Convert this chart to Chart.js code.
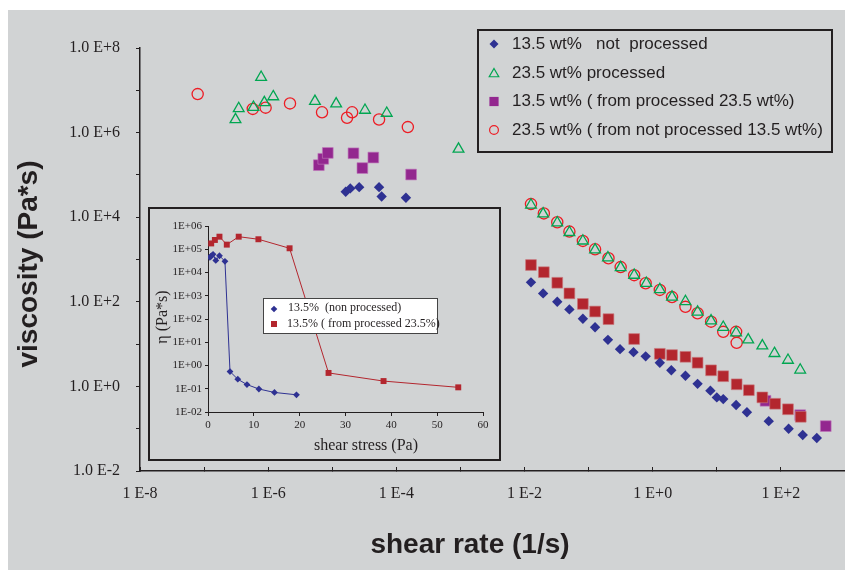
<!DOCTYPE html>
<html>
<head>
<meta charset="utf-8">
<script src="https://cdn.jsdelivr.net/npm/chart.js@4.4.1/dist/chart.umd.min.js"></script>
<style>
html,body{margin:0;padding:0;background:#ffffff;}
#wrap{position:relative;width:845px;height:572px;overflow:hidden;}
#bg{position:absolute;left:8px;top:10px;width:837px;height:560px;background:#D1D3D4;}
#main{position:absolute;left:0;top:0;width:845px;height:572px;}
#insetBox{position:absolute;left:148px;top:207px;width:349px;height:250px;border:2px solid #231F20;}
#inset{position:absolute;left:0;top:0;width:349px;height:250px;}
</style>
</head>
<body>
<div id="wrap">
  <div id="bg"></div>
  <canvas id="main" width="845" height="572"></canvas>
  <div id="insetBox"><canvas id="inset" width="349" height="250"></canvas></div>
</div>
<script>
// ---------------- DATA (main chart) ----------------
const xTitle = 'shear rate (1/s)';
const yTitle = 'viscosity (Pa*s)';
const legendLabels = [
  '13.5 wt%   not  processed',
  '23.5 wt% processed',
  '13.5 wt% ( from processed 23.5 wt%)',
  '23.5 wt% ( from not processed 13.5 wt%)'
];
const xTickValues = [1e-8,1e-7,1e-6,1e-5,1e-4,1e-3,1e-2,1e-1,1e0,1e1,1e2,1e3];
const xTickLabels = ['1 E-8','','1 E-6','','1 E-4','','1 E-2','','1 E+0','','1 E+2',''];
const yTickValues = [1e-2,1e-1,1e0,1e1,1e2,1e3,1e4,1e5,1e6,1e7,1e8];
const yTickLabels = ['1.0 E-2','','1.0 E+0','','1.0 E+2','','1.0 E+4','','1.0 E+6','','1.0 E+8'];

// 13.5 wt% not processed (diamonds)
const rate135NP = [1.62e-5,1.91e-5,2.63e-5,5.37e-5,5.89e-5,1.41e-4,
  1.26e-2,1.95e-2,3.24e-2,5.01e-2,8.13e-2,0.126,0.200,0.309,0.501,0.776,1.29,1.95,3.24,5.01,7.94,10.0,12.6,20.0,29.5,64.6,132,219,363];
const visc135NP = [3.98e4,4.79e4,5.13e4,5.13e4,3.09e4,2.88e4,
  288,158,100,66.1,39.8,25.1,12.6,7.59,6.46,5.13,3.63,2.40,1.78,1.15,0.794,0.550,0.501,0.363,0.245,0.151,0.100,0.0708,0.0603];

// 23.5 wt% processed (triangles)
const rate235P = [7.76e-7,3.47e-7,3.09e-7,5.89e-7,8.71e-7,1.20e-6,5.37e-6,1.15e-5,3.24e-5,7.08e-5,9.33e-4,
  1.26e-2,1.95e-2,3.24e-2,5.01e-2,8.13e-2,0.126,0.200,0.316,0.513,0.794,1.29,2.00,3.24,5.01,8.13,12.6,20.0,30.9,51.3,79.4,129,200];
const visc235P = [2.04e7,3.72e6,2.04e6,3.98e6,5.13e6,7.08e6,5.50e6,4.79e6,3.39e6,2.88e6,4.07e5,
  1.95e4,1.20e4,7.41e3,4.37e3,2.75e3,1.70e3,1.10e3,646,427,275,195,129,102,57.5,35.5,25.1,18.6,12.6,9.12,6.03,4.17,2.45];

// 13.5 wt% (from processed 23.5 wt%) - purple squares
const rate135FP = [6.17e-6,7.24e-6,8.51e-6,2.14e-5,4.37e-5,2.95e-5,1.70e-4,57.5,200,501];
const visc135FP = [1.70e5,2.40e5,3.31e5,3.24e5,2.57e5,1.45e5,1.02e5,0.457,0.209,0.115];

// 13.5 wt% (from processed 23.5 wt%) - second run, red squares
const rate135FPb = [1.26e-2,2.00e-2,3.24e-2,5.01e-2,8.13e-2,0.126,0.204,0.513,1.29,2.00,3.24,5.01,8.13,12.6,20.4,31.6,51.3,81.3,129,204];
const visc135FPb = [741,501,282,158,89.1,58.9,38.9,13.2,5.89,5.50,5.01,3.63,2.40,1.74,1.12,0.813,0.550,0.389,0.288,0.191];

// 23.5 wt% (from not processed 13.5 wt%) - open circles
const rate235FNP = [7.94e-8,5.75e-7,9.12e-7,2.19e-6,6.92e-6,1.70e-5,2.04e-5,5.37e-5,1.51e-4,
  1.26e-2,2.00e-2,3.24e-2,5.01e-2,8.13e-2,0.126,0.204,0.316,0.513,0.776,1.29,2.00,3.24,5.01,8.13,12.6,20.0,20.4];
const visc235FNP = [8.13e6,3.63e6,3.89e6,4.90e6,3.02e6,2.24e6,3.02e6,2.04e6,1.35e6,
  2.04e4,1.23e4,7.59e3,4.57e3,2.75e3,1.74e3,1.07e3,661,427,275,191,129,75.9,53.7,33.9,19.5,19.5,10.7];

// ---------------- DATA (inset) ----------------
const insetXTitle = 'shear stress (Pa)';
const insetYTitle = 'η (Pa*s)';
const insetLegendLabels = ['13.5%  (non processed)', '13.5% ( from processed 23.5%)'];
const insetXTicks = [0,10,20,30,40,50,60];
const insetYTickValues = [1e-2,1e-1,1e0,1e1,1e2,1e3,1e4,1e5,1e6];
const insetYTickLabels = ['1E-02','1E-01','1E+00','1E+01','1E+02','1E+03','1E+04','1E+05','1E+06'];
const stressNP = [0.4,0.7,1.1,1.7,2.5,3.7,4.8,6.5,8.5,11.1,14.5,19.3];
const etaNP = [4.47e4,5.13e4,6.03e4,3.31e4,5.25e4,3.02e4,0.550,0.257,0.151,0.0977,0.0692,0.0550];
const stressFP = [0.7,1.5,2.5,4.1,6.7,11.0,17.8,26.3,38.3,54.6];
const etaFP = [1.78e5,2.51e5,3.47e5,1.58e5,3.47e5,2.69e5,1.10e5,0.479,0.214,0.115];

// ---------------- helpers ----------------
const pts = (xs, ys) => xs.map((x, i) => ({x: x, y: ys[i]}));
const DARK = '#231F20';
const NAVY = '#2E3192';
const GREEN = '#00A651';
const PURPLE = '#93278F';
const BRICK = '#B3262E';
const RED = '#ED1C24';
const SERIF = '"Liberation Serif", "Times New Roman", serif';
const SANS = '"Liberation Sans", Arial, sans-serif';

function marker(ctx, style, x, y, r, fill, stroke, lw) {
  ctx.save();
  ctx.beginPath();
  if (style === 'diamond') {
    ctx.moveTo(x, y - r); ctx.lineTo(x + r, y); ctx.lineTo(x, y + r); ctx.lineTo(x - r, y); ctx.closePath();
  } else if (style === 'square') {
    ctx.rect(x - r, y - r, 2 * r, 2 * r);
  } else if (style === 'triangle') {
    ctx.moveTo(x, y - r); ctx.lineTo(x + r * 0.866, y + r / 2); ctx.lineTo(x - r * 0.866, y + r / 2); ctx.closePath();
  } else {
    ctx.arc(x, y, r, 0, Math.PI * 2);
  }
  if (fill) { ctx.fillStyle = fill; ctx.fill(); }
  if (stroke) { ctx.strokeStyle = stroke; ctx.lineWidth = lw || 1; ctx.stroke(); }
  ctx.restore();
}

// ---------------- main chart ----------------
const mainText = {
  id: 'mainText',
  afterDraw(chart) {
    const ctx = chart.ctx;
    ctx.save();
    ctx.fillStyle = DARK;
    ctx.font = 'bold 28px ' + SANS;
    ctx.textAlign = 'center';
    ctx.textBaseline = 'middle';
    ctx.fillText(xTitle, 470, 545);
    ctx.save();
    ctx.translate(29, 264);
    ctx.rotate(-Math.PI / 2);
    ctx.fillText(yTitle, 0, 0);
    ctx.restore();
    // legend box
    ctx.strokeStyle = DARK;
    ctx.lineWidth = 2;
    ctx.strokeRect(478, 30, 354, 122);
    const rows = [44, 73, 101.5, 130];
    marker(ctx, 'diamond', 494, rows[0], 4.5, NAVY);
    marker(ctx, 'triangle', 494, rows[1] + 1, 5.5, null, GREEN, 1.2);
    marker(ctx, 'square', 494, rows[2], 4.6, PURPLE);
    marker(ctx, 'circle', 494, rows[3], 4.4, null, RED, 1.2);
    ctx.font = '17px ' + SANS;
    ctx.textAlign = 'left';
    ctx.fillStyle = DARK;
    legendLabels.forEach((t, i) => ctx.fillText(t, 512, rows[i]));
    ctx.restore();
  }
};

new Chart(document.getElementById('main'), {
  type: 'scatter',
  data: {
    datasets: [
      { label: legendLabels[1], data: pts(rate235P, visc235P), pointStyle: 'triangle', pointRadius: 6.2,
        backgroundColor: 'rgba(0,0,0,0)', borderColor: GREEN, borderWidth: 1.3 },
      { label: legendLabels[3], data: pts(rate235FNP, visc235FNP), pointStyle: 'circle', pointRadius: 5.6,
        backgroundColor: 'rgba(0,0,0,0)', borderColor: RED, borderWidth: 1.3 },
      { label: legendLabels[0], data: pts(rate135NP, visc135NP), pointStyle: 'rectRot', pointRadius: 5.2,
        backgroundColor: NAVY, borderColor: NAVY, borderWidth: 0 },
      { label: legendLabels[2] + ' b', data: pts(rate135FPb, visc135FPb), pointStyle: 'rect', pointRadius: 7.6,
        backgroundColor: BRICK, borderColor: 'rgba(200,120,125,0.8)', borderWidth: 0.8 },
      { label: legendLabels[2], data: pts(rate135FP, visc135FP), pointStyle: 'rect', pointRadius: 7.6,
        backgroundColor: PURPLE, borderColor: 'rgba(190,120,185,0.8)', borderWidth: 0.8 }
    ]
  },
  options: {
    responsive: false,
    animation: false,
    devicePixelRatio: 1,
    layout: { autoPadding: false, padding: { top: 48, right: 0, left: 0, bottom: 0 } },
    plugins: { legend: { display: false }, tooltip: { enabled: false } },
    scales: {
      x: {
        type: 'logarithmic', position: 'bottom', min: 1e-8, max: 1e3,
        afterBuildTicks: s => { s.ticks = xTickValues.map(v => ({value: v})); },
        afterFit: s => { s.height = 101; s.paddingLeft = 0; s.paddingRight = 0; },
        ticks: { autoSkip: false, maxRotation: 0, padding: 17, color: DARK,
          font: { family: SERIF, size: 16 },
          callback: (v, i) => xTickLabels[i] },
        grid: { drawOnChartArea: false, drawTicks: true, tickLength: -4, color: DARK, lineWidth: 1 },
        border: { display: true, color: DARK, width: 1.5 }
      },
      y: {
        type: 'logarithmic', position: 'left', min: 1e-2, max: 1e8,
        afterBuildTicks: s => { s.ticks = yTickValues.map(v => ({value: v})); },
        afterFit: s => { s.width = 140; s.paddingTop = 0; s.paddingBottom = 0; },
        ticks: { autoSkip: false, padding: 16, color: DARK,
          font: { family: SERIF, size: 16 },
          callback: (v, i) => yTickLabels[i] },
        grid: { drawOnChartArea: false, drawTicks: true, tickLength: 4, color: DARK, lineWidth: 1 },
        border: { display: true, color: DARK, width: 1.5 }
      }
    }
  },
  plugins: [mainText]
});

// ---------------- inset chart ----------------
const insetText = {
  id: 'insetText',
  afterDraw(chart) {
    const ctx = chart.ctx;
    ctx.save();
    ctx.fillStyle = DARK;
    ctx.font = '16px ' + SERIF;
    ctx.textAlign = 'center';
    ctx.textBaseline = 'middle';
    ctx.fillText(insetXTitle, 216, 237);
    ctx.save();
    ctx.translate(13, 108);
    ctx.rotate(-Math.PI / 2);
    ctx.fillText(insetYTitle, 0, 0);
    ctx.restore();
    // legend
    ctx.fillStyle = '#ffffff';
    ctx.fillRect(113, 89, 174, 35);
    ctx.strokeStyle = '#444444';
    ctx.lineWidth = 1;
    ctx.strokeRect(113.5, 89.5, 174, 35);
    marker(ctx, 'diamond', 124, 100, 3.3, NAVY);
    marker(ctx, 'square', 124, 115, 3, BRICK);
    ctx.fillStyle = DARK;
    ctx.font = '12px ' + SERIF;
    ctx.textAlign = 'left';
    ctx.fillText(insetLegendLabels[0], 138, 99);
    ctx.fillText(insetLegendLabels[1], 137, 115);
    ctx.restore();
  }
};

new Chart(document.getElementById('inset'), {
  type: 'scatter',
  data: {
    datasets: [
      { label: insetLegendLabels[0], data: pts(stressNP, etaNP), showLine: true, borderColor: NAVY, borderWidth: 1,
        pointStyle: 'rectRot', pointRadius: 3.4, backgroundColor: NAVY, pointBorderWidth: 0 },
      { label: insetLegendLabels[1], data: pts(stressFP, etaFP), showLine: true, borderColor: BRICK, borderWidth: 1,
        pointStyle: 'rect', pointRadius: 4.2, backgroundColor: BRICK, pointBorderWidth: 0 }
    ]
  },
  options: {
    responsive: false,
    animation: false,
    devicePixelRatio: 1,
    layout: { autoPadding: false, padding: { top: 17, right: 16, left: 0, bottom: 0 } },
    plugins: { legend: { display: false }, tooltip: { enabled: false } },
    scales: {
      x: {
        type: 'linear', min: 0, max: 60,
        afterBuildTicks: s => { s.ticks = insetXTicks.map(v => ({value: v})); },
        afterFit: s => { s.height = 47; s.paddingLeft = 0; s.paddingRight = 0; },
        ticks: { autoSkip: false, maxRotation: 0, padding: 3, color: DARK,
          font: { family: SERIF, size: 11 } },
        grid: { drawOnChartArea: false, drawTicks: true, tickLength: 4, color: DARK, lineWidth: 1 },
        border: { display: true, color: DARK, width: 1 }
      },
      y: {
        type: 'logarithmic', min: 1e-2, max: 1e6,
        afterBuildTicks: s => { s.ticks = insetYTickValues.map(v => ({value: v})); },
        afterFit: s => { s.width = 58; s.paddingTop = 0; s.paddingBottom = 0; },
        ticks: { autoSkip: false, padding: 3, color: DARK,
          font: { family: SERIF, size: 11 },
          callback: (v, i) => insetYTickLabels[i] },
        grid: { drawOnChartArea: false, drawTicks: true, tickLength: 3, color: DARK, lineWidth: 1 },
        border: { display: true, color: DARK, width: 1 }
      }
    }
  },
  plugins: [insetText]
});
</script>
</body>
</html>
